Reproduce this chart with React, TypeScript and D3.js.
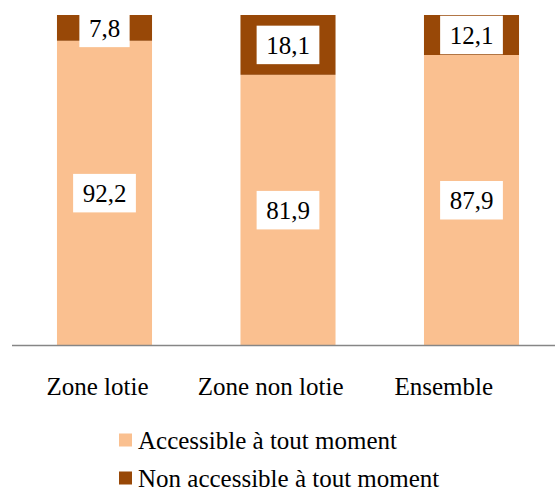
import React from "react";
import * as d3 from "d3";

const categories = ["Zone lotie", "Zone non lotie", "Ensemble"];
const seriesNames = ["Accessible à tout moment", "Non accessible à tout moment"];
const accessible = [92.2, 81.9, 87.9];
const nonAccessible = [7.8, 18.1, 12.1];
const colors = ["#FAC090", "#984807"];

const W = 555;
const H = 488;
const FONT = '"Liberation Serif"';
const FS = 25;

const x = d3.scaleBand<string>().domain(categories).range([12.75, 563.25]).paddingInner(0.482).paddingOuter(0.241);
// category labels sit on a slightly narrower spacing than the bars
const xLabel = d3.scalePoint<string>().domain(categories).range([97.5, 443.7]);
const y = d3.scaleLinear().domain([0, 100]).range([345.5, 15]);

const rows = categories.map((c, i) => ({ cat: c, a: accessible[i], n: nonAccessible[i] }));
const stacked = d3.stack<any>().keys(["a", "n"])(rows);
const fmt = (v: number) => d3.format(".1f")(v).replace(".", ",");
// Times-metric widths: digits 0.5em, comma 0.25em
const textW = (s: string) => s.split("").reduce((acc, ch) => acc + (ch === "," ? 0.25 : 0.5), 0) * FS;

export default function App() {
  return (
    <svg width={W} height={H} style={{ position: "absolute", left: 0, top: 0, background: "white" }}>
      {stacked.map((layer, li) => (
        <g key={li}>
          {layer.map((d: any) => (
            <rect
              key={d.data.cat}
              x={x(d.data.cat)!}
              width={x.bandwidth()}
              y={y(d[1])}
              height={y(d[0]) - y(d[1])}
              fill={colors[li]}
            />
          ))}
        </g>
      ))}
      <line x1={12} x2={W} y1={y(0)} y2={y(0)} stroke="#868686" strokeWidth={1.5} />
      {stacked.map((layer, li) => (
        <g key={"l" + li}>
          {layer.map((d: any) => {
            const cx = x(d.data.cat)! + x.bandwidth() / 2;
            const cy = (y(d[0]) + y(d[1])) / 2;
            const label = fmt(d[1] - d[0]);
            const bw = textW(label) + 19;
            const bh = 38.5;
            return (
              <g key={d.data.cat}>
                <rect x={cx - bw / 2} y={cy - bh / 2} width={bw} height={bh} fill="white" />
                <text x={cx} y={cy} dy="0.35em" textAnchor="middle" style={{ fontFamily: FONT, fontSize: FS + "px" }} fill="#000">
                  {label}
                </text>
              </g>
            );
          })}
        </g>
      ))}
      {categories.map((c) => (
        <text key={c} x={xLabel(c)!} y={395} textAnchor="middle" style={{ fontFamily: FONT, fontSize: FS + "px" }} fill="#000">
          {c}
        </text>
      ))}
      {seriesNames.map((s, i) => {
        const ly = 433.5 + i * 38;
        return (
          <g key={s}>
            <rect x={119} y={ly} width={13} height={13} fill={colors[i]} />
            <text x={138} y={ly + 15} style={{ fontFamily: FONT, fontSize: FS + "px" }} fill="#000">
              {s}
            </text>
          </g>
        );
      })}
    </svg>
  );
}
